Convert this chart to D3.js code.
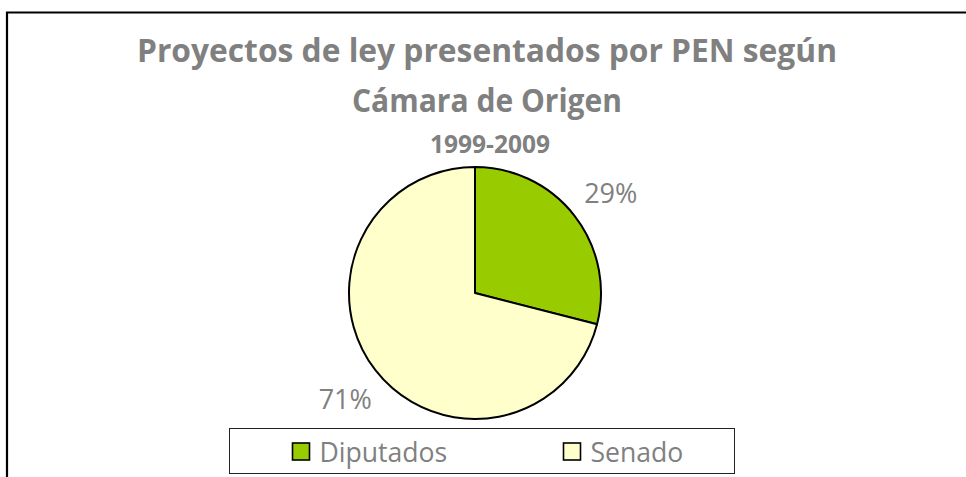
<!DOCTYPE html>
<html>
<head>
<meta charset="utf-8">
<script src="https://cdn.jsdelivr.net/npm/d3@7"></script>
<style>
  body { margin: 0; background: #fff; }
  #myPlot { width: 966px; height: 477px; }
  text { font-family: "Open Sans", sans-serif; fill: #808080; }
</style>
</head>
<body>
<div id="myPlot"></div>
<script>
const titleLines = ["Proyectos de ley presentados por PEN según", "Cámara de Origen"]
const subtitle = "1999-2009"
const categories = ["Diputados", "Senado"]
const values = [29, 71]
const colors = ["#99CC00", "#FFFFCC"]

const rootSelector = "#myPlot"
const width = 966
const height = 477

const svg = d3.select(rootSelector).append("svg")
    .attr("width", width)
    .attr("height", height)

// chart frame (only top and left edges visible in the crop)
svg.append("path")
    .attr("d", `M7,${height} V12.5 H${width}`)
    .attr("fill", "none")
    .attr("stroke", "#000")
    .attr("stroke-width", 2.2)

const titleWidths = [700, 270]
svg.selectAll(".title")
    .data(titleLines)
    .enter().append("text")
    .attr("class", "title")
    .attr("x", 487)
    .attr("y", (d, i) => 62 + i * 50)
    .attr("text-anchor", "middle")
    .attr("font-size", 33)
    .attr("font-weight", "bold")
    .attr("textLength", (d, i) => titleWidths[i])
    .attr("lengthAdjust", "spacingAndGlyphs")
    .text(d => d)

svg.append("text")
    .attr("x", 490)
    .attr("y", 153)
    .attr("text-anchor", "middle")
    .attr("font-size", 24.5)
    .attr("font-weight", "bold")
    .text(subtitle)

const center = {x: 475, y: 293}
const radius = 126

const color = d3.scaleOrdinal().domain(categories).range(colors)
const total = d3.sum(values)
const data = categories.map((c, i) => ({name: c, value: values[i]}))

const pie = d3.pie().sort(null).value(d => d.value)
const arc = d3.arc().innerRadius(0).outerRadius(radius)
const labelArc = d3.arc().innerRadius(168).outerRadius(168)

const pieG = svg.append("g")
    .attr("transform", `translate(${center.x}, ${center.y})`)

pieG.selectAll(".slice")
    .data(pie(data))
    .enter().append("path")
    .attr("class", "slice")
    .attr("d", arc)
    .attr("fill", d => color(d.data.name))
    .attr("stroke", "#000")
    .attr("stroke-width", 2)
    .attr("stroke-linejoin", "round")

pieG.selectAll(".pct")
    .data(pie(data))
    .enter().append("text")
    .attr("class", "pct")
    .attr("transform", d => `translate(${labelArc.centroid(d)})`)
    .attr("dx", 3)
    .attr("dy", "0.48em")
    .attr("text-anchor", "middle")
    .attr("font-size", 27)
    .text(d => `${Math.round(d.value / total * 100)}%`)

// legend
const legend = svg.append("g").attr("transform", "translate(229.5, 428.5)")
legend.append("rect")
    .attr("width", 505)
    .attr("height", 45)
    .attr("fill", "#fff")
    .attr("stroke", "#222")
    .attr("stroke-width", 1)

const legendX = d3.scalePoint().domain(categories).range([63, 334])

const items = legend.selectAll(".item")
    .data(categories)
    .enter().append("g")
    .attr("class", "item")
    .attr("transform", d => `translate(${legendX(d)}, 0)`)

items.append("rect")
    .attr("x", 0)
    .attr("y", 14.5)
    .attr("width", 17)
    .attr("height", 17)
    .attr("fill", d => color(d))
    .attr("stroke", "#000")
    .attr("stroke-width", 1.6)

items.append("text")
    .attr("x", 27)
    .attr("y", 33)
    .attr("font-size", 26.6)
    .text(d => d)
</script>
</body>
</html>
